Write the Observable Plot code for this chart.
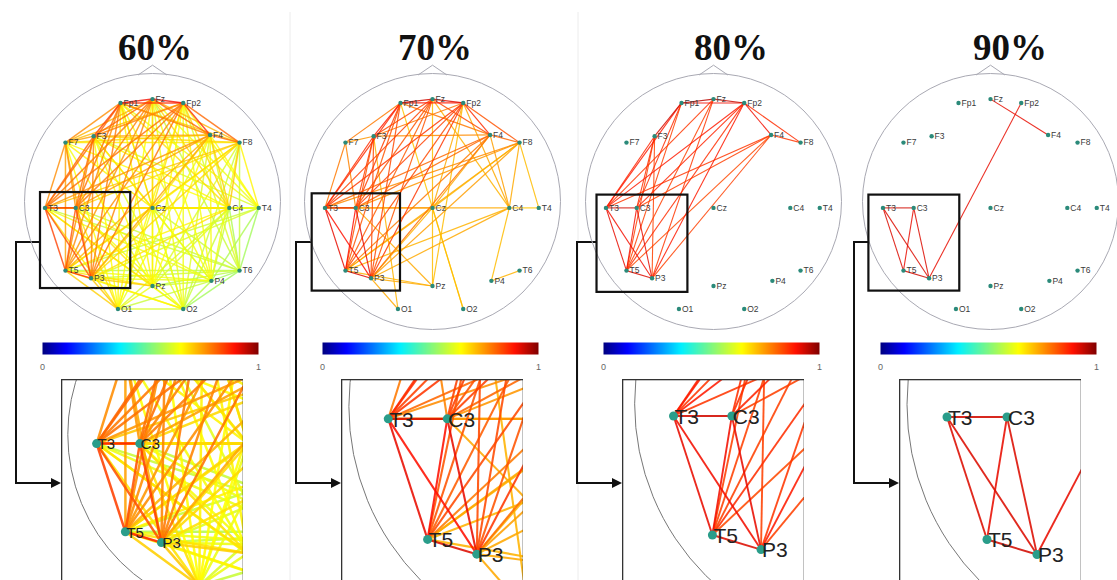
<!DOCTYPE html>
<html><head><meta charset="utf-8">
<script src="https://cdn.jsdelivr.net/npm/d3@7"></script>
<script src="https://cdn.jsdelivr.net/npm/@observablehq/plot@0.6"></script>
<style>
html,body{margin:0;padding:0;overflow:hidden;background:#fff}
#root{position:relative;width:1117px;height:580px;overflow:hidden;background:#fff}
.abs{position:absolute}
.title{font-family:"Liberation Serif","Times New Roman",serif;font-weight:bold;font-size:37px;line-height:37px;text-align:center;width:200px;color:#111}
</style></head>
<body><div id="root"></div>
<script>
// ---------- DATA ----------
const titles = ["60%", "70%", "80%", "90%"];
const electrodeNames = ["Fp1","Fz","Fp2","F7","F3","F4","F8","T3","C3","Cz","C4","T4","T5","P3","Pz","P4","T6","O1","O2"];
const electrodeX = [-0.25, 0.00, 0.24, -0.68, -0.46, 0.45, 0.68, -0.84, -0.60, 0.00, 0.60, 0.83, -0.68, -0.48, 0.00, 0.46, 0.68, -0.27, 0.24];
const electrodeY = [0.77, 0.80, 0.77, 0.46, 0.51, 0.52, 0.46, -0.05, -0.05, -0.05, -0.05, -0.05, -0.54, -0.60, -0.66, -0.62, -0.54, -0.84, -0.84];
const noseX = [-0.11, 0, 0.11];
const noseY = [0.99, 1.065, 0.99];
const colorbarTicks = [0, 1];
const jetStops = [0, 0.11, 0.36, 0.64, 0.89, 1];
const jetColors = ["#000080", "#0000ff", "#00f0ff", "#ffff00", "#ff1000", "#800000"];
// zoom box in head coordinates: x1, x2, y1, y2
const zoomBoxes = [[-0.875,-0.17,-0.68,0.07],[-0.94,-0.25,-0.70,0.06],[-0.91,-0.20,-0.71,0.05],[-0.95,-0.24,-0.70,0.05]];

const edges60 = [
"Fp1-Fz .9","Fz-Fp2 .9","Fp1-Fp2 .86","Fp1-F3 .84","Fp1-F7 .76","Fz-F3 .8","Fz-F4 .8","Fp2-F4 .86","Fp2-F8 .8","F4-F8 .8","F7-F3 .74","F3-F4 .73","Fp1-F4 .77","Fp2-F3 .77","Fz-F7 .72","Fz-F8 .72","Fp1-F8 .7","Fp2-F7 .71","F7-F8 .66","F3-F8 .68","F7-F4 .68",
"Fp1-T3 .8","Fp1-C3 .79","Fp1-T5 .76","Fp1-P3 .78","Fz-T3 .78","Fz-C3 .77","Fz-T5 .75","Fz-P3 .77","Fp2-T3 .79","Fp2-C3 .78","Fp2-T5 .76","Fp2-P3 .79","F3-T3 .8","F3-C3 .79","F3-T5 .76","F3-P3 .77","F7-T3 .76","F7-C3 .75","F7-T5 .74","F7-P3 .73","F4-T3 .75","F4-C3 .74","F4-T5 .72","F4-P3 .73","F8-T3 .7","F8-C3 .68","F8-T5 .68","F8-P3 .68",
"T3-C3 .88","T3-T5 .84","T3-P3 .82","C3-T5 .82","C3-P3 .84","T5-P3 .87",
"Cz-Fp1 .68","Cz-Fz .68","Cz-Fp2 .67","Cz-F3 .67","Cz-F4 .67","Cz-F7 .65","Cz-F8 .64","Cz-T3 .68","Cz-C3 .68","Cz-T5 .67","Cz-P3 .68","Cz-C4 .64","Cz-T4 .6","Cz-Pz .62","Cz-P4 .6","Cz-O1 .62","Cz-O2 .6","Cz-T6 .58",
"C4-Fp1 .67","C4-Fz .68","C4-Fp2 .68","C4-F3 .65","C4-F4 .69","C4-F7 .64","C4-F8 .7","C4-T3 .67","C4-C3 .65","C4-T5 .65","C4-P3 .67","C4-T4 .62","C4-Pz .6","C4-P4 .58","C4-T6 .55","C4-O1 .6","C4-O2 .58",
"T4-F8 .65","T4-F4 .64","T4-Fp2 .63","T4-Fz .62","T4-Fp1 .62","T4-F3 .6","T4-T3 .6","T4-C3 .6","T4-P3 .6","T4-T5 .58","T4-T6 .54","T4-P4 .55",
"Pz-Fp1 .65","Pz-Fz .65","Pz-Fp2 .64","Pz-F3 .64","Pz-F4 .64","Pz-F7 .63","Pz-F8 .6","Pz-T3 .67","Pz-C3 .67","Pz-T5 .67","Pz-P3 .69","Pz-P4 .58","Pz-O1 .62","Pz-O2 .6","Pz-T6 .56",
"P4-Fp1 .63","P4-Fz .63","P4-Fp2 .63","P4-F3 .62","P4-F4 .63","P4-F8 .62","P4-T3 .62","P4-C3 .62","P4-T5 .62","P4-P3 .62","P4-T6 .54","P4-O2 .56","P4-O1 .58",
"T6-Fp2 .6","T6-F4 .6","T6-F8 .58","T6-T3 .58","T6-C3 .58","T6-P3 .58","T6-T5 .56","T6-Fz .58","T6-O2 .54",
"O1-Fp1 .65","O1-Fz .64","O1-Fp2 .64","O1-F3 .64","O1-T3 .67","O1-C3 .67","O1-T5 .69","O1-P3 .7","O1-F4 .62","O1-O2 .6","O1-F7 .64",
"O2-Fp1 .62","O2-Fz .62","O2-Fp2 .62","O2-F3 .61","O2-T3 .63","O2-C3 .63","O2-T5 .63","O2-P3 .65","O2-F4 .6","O2-F8 .58"
];
const edges70 = [
"Fp1-Fz .93","Fz-Fp2 .92","Fp1-Fp2 .88","Fp1-F3 .88","Fp1-F7 .78","Fz-F3 .83","Fp2-F4 .86","Fp2-F8 .82","Fz-F4 .83","F4-F8 .8","F3-F4 .76","F7-F3 .75","Fp1-F4 .78","Fp2-F3 .78",
"Fp1-T3 .86","Fp1-C3 .84","Fp1-T5 .82","Fp1-P3 .83","F3-T3 .86","F3-C3 .84","F3-T5 .82","F3-P3 .83","F7-T3 .78","F7-C3 .77","Fz-T3 .84","Fz-C3 .82","Fz-T5 .81","Fz-P3 .82","Fp2-T3 .85","Fp2-C3 .84","Fp2-T5 .83","Fp2-P3 .85","F4-T3 .8","F4-C3 .8","F4-T5 .78","F4-P3 .79","F8-T3 .76","F8-C3 .75","F8-P3 .74","F8-T5 .73",
"T3-C3 .92","T3-T5 .91","T3-P3 .89","C3-T5 .89","C3-P3 .91","T5-P3 .92",
"C4-F8 .73","C4-F4 .74","C4-Fp2 .73","C4-Fz .72","C4-T3 .73","C4-T5 .72","C4-P3 .73","C4-P4 .71","C4-T4 .7","F8-T4 .71","P4-T6 .72","Pz-P3 .73","Pz-Fp2 .71","Pz-Fz .71","O1-F3 .72","O1-P3 .73","O2-Cz .71","O2-Fp1 .7","Cz-T3 .75","Cz-F8 .71","Cz-Fp2 .73","Cz-P3 .72","Pz-C3 .73","Pz-T5 .72","Cz-T5 .72","Cz-F4 .73"
];
const edges80 = [
"Fp1-Fz .95","Fz-Fp2 .94","Fp1-Fp2 .9","Fp1-F3 .93","Fp2-F4 .9","Fp2-F8 .86","F4-F8 .85","Fp1-T3 .88","Fp1-C3 .86","Fp1-T5 .84","F3-T3 .87","F3-C3 .86","F3-P3 .84","F3-T5 .84","Fz-T3 .85","Fz-T5 .84","Fz-P3 .85","Fp2-T3 .88","Fp2-C3 .87","Fp2-T5 .86","Fp2-P3 .88","F4-T3 .85","F4-C3 .84","F4-P3 .84","F4-T5 .83",
"T3-C3 .93","T3-T5 .91","T3-P3 .9","C3-T5 .9","C3-P3 .91","T5-P3 .92"
];
const edges90 = [
"T3-C3 .93","T3-T5 .92","T3-P3 .92","C3-T5 .91","C3-P3 .92","T5-P3 .93","P3-Fp2 .91","Fz-F4 .91"
];

// ---------- LAYOUT ----------
const headCX = [152, 432, 713, 990];
const headCY = 201, R = 128, HALF = 140;
const titleCX = [155, 435, 731, 1010];
const insetViews = [{x0:-1.035,y0:0.306,s:180},{x0:-1.03,y0:0.11,s:246},{x0:-1.05,y0:0.10,s:243},{x0:-1.03,y0:0.10,s:250}];
const insetFont = [15, 21, 21, 21];
const headEdgeWidth = [1.5, 1.2, 1.1, 1.1];
const headEdgeOpacity = [0.8, 0.85, 0.85, 0.85];
const insetEdgeWidth = [2.5, 2.1, 1.9, 1.9];
const INSET_W = 182, INSET_H = 215, INSET_TOP = 379;

const electrodes = electrodeNames.map((name, i) => ({name, x: electrodeX[i], y: electrodeY[i]}));
const pos = Object.fromEntries(electrodes.map(e => [e.name, e]));
const nose = noseX.map((x, i) => ({x, y: noseY[i]}));
function parseEdges(list) {
  return list.map(s => {
    const [pair, w] = s.split(" ");
    const [a, b] = pair.split("-");
    return {a, b, w: +w, x1: pos[a].x, y1: pos[a].y, x2: pos[b].x, y2: pos[b].y};
  }).sort((p, q) => p.w - q.w);
}
const edgesByPanel = [edges60, edges70, edges80, edges90].map(parseEdges);
const colorScale = {type: "linear", domain: jetStops, range: jetColors, interpolate: "rgb"};
const FONT = "'Liberation Sans', Arial, sans-serif";

const root = document.getElementById("root");
function place(el, left, top) {
  el.classList.add("abs");
  el.style.left = left + "px";
  el.style.top = top + "px";
  root.appendChild(el);
}

// decorative overlay: separators + connector arrows
const overlay = d3.create("svg").attr("width", 1117).attr("height", 580)
  .style("position", "absolute").style("left", "0px").style("top", "0px");
[290, 578].forEach(x => overlay.append("line").attr("x1", x).attr("x2", x).attr("y1", 12).attr("y2", 580)
  .attr("stroke", "#ececec").attr("stroke-width", 1));
root.appendChild(overlay.node());

headCX.forEach((cx, i) => {
  const t = document.createElement("div");
  t.className = "title";
  t.textContent = titles[i];
  place(t, titleCX[i] - 100, 29);

  const box = zoomBoxes[i];
  const boxObj = {x1: box[0], x2: box[1], y1: box[2], y2: box[3]};
  const half = HALF / R;

  const head = Plot.plot({
    width: 2 * HALF, height: 2 * HALF, margin: 0,
    x: {domain: [-half, half], axis: null},
    y: {domain: [-half, half], axis: null},
    color: colorScale,
    style: {background: "transparent", overflow: "visible", fontFamily: FONT},
    marks: [
      Plot.dot([{x: 0, y: 0}], {x: "x", y: "y", r: R, fill: "none", stroke: "#a9a9b3", strokeWidth: 1}),
      Plot.line(nose, {x: "x", y: "y", stroke: "#a9a9b3", strokeWidth: 1}),
      Plot.link(edgesByPanel[i], {x1: "x1", y1: "y1", x2: "x2", y2: "y2", stroke: "w", strokeWidth: headEdgeWidth[i], strokeOpacity: headEdgeOpacity[i]}),
      Plot.rect([boxObj], {x1: "x1", x2: "x2", y1: "y1", y2: "y2", fill: "none", stroke: "#111", strokeWidth: 2.2}),
      Plot.dot(electrodes, {x: "x", y: "y", r: 2.2, fill: "#2b8a7a"}),
      Plot.text(electrodes, {x: "x", y: "y", text: "name", textAnchor: "start", dx: 3, fontSize: 8.5, fill: "#3a3a3a"})
    ]
  });
  place(head, cx - HALF, headCY - HALF);

  const cb = Plot.plot({
    width: 226, height: 32, marginLeft: 5, marginRight: 5, marginTop: 0, marginBottom: 20,
    x: {domain: [0, 1], ticks: colorbarTicks, tickSize: 0, tickPadding: 9, tickFormat: d3.format("d"), label: null},
    y: {domain: [0, 1], axis: null},
    color: colorScale,
    style: {background: "transparent", fontFamily: FONT, fontSize: "9px", color: "#666"},
    marks: [
      Plot.raster({x1: 0, x2: 1, y1: 0, y2: 1, width: 216, height: 1, fill: (x, y) => x})
    ]
  });
  place(cb, cx - 115, 342);

  const v = insetViews[i];
  const inset = Plot.plot({
    width: INSET_W, height: INSET_H, margin: 0,
    x: {domain: [v.x0, v.x0 + INSET_W / v.s], axis: null},
    y: {domain: [v.y0 - INSET_H / v.s, v.y0], axis: null},
    color: colorScale,
    style: {background: "#fff", fontFamily: FONT},
    marks: [
      Plot.dot([{x: 0, y: 0}], {x: "x", y: "y", r: v.s, fill: "none", stroke: "#777", strokeWidth: 1, clip: true}),
      Plot.link(edgesByPanel[i], {x1: "x1", y1: "y1", x2: "x2", y2: "y2", stroke: "w", strokeWidth: insetEdgeWidth[i], strokeOpacity: 0.88, clip: true}),
      Plot.dot(electrodes, {x: "x", y: "y", r: 4.5, fill: "#2a9d8a", clip: true}),
      Plot.text(electrodes, {x: "x", y: "y", text: "name", textAnchor: "start", dx: 1, dy: 1, fontSize: insetFont[i], fill: "#222", clip: true}),
      Plot.frame({stroke: "#333", strokeWidth: 1.6})
    ]
  });
  place(inset, cx - INSET_W / 2, INSET_TOP);

  const bx = cx + box[0] * R;
  const xv = cx - 136, y1 = 242, y2 = 483, xa = cx - INSET_W / 2;
  overlay.append("path").attr("d", `M${bx},${y1}H${xv}V${y2}H${xa - 8}`)
    .attr("fill", "none").attr("stroke", "#111").attr("stroke-width", 2);
  overlay.append("path").attr("d", `M${xa},${y2}L${xa - 10},${y2 - 5}L${xa - 10},${y2 + 5}Z`).attr("fill", "#111");
});
</script>
</body></html>
